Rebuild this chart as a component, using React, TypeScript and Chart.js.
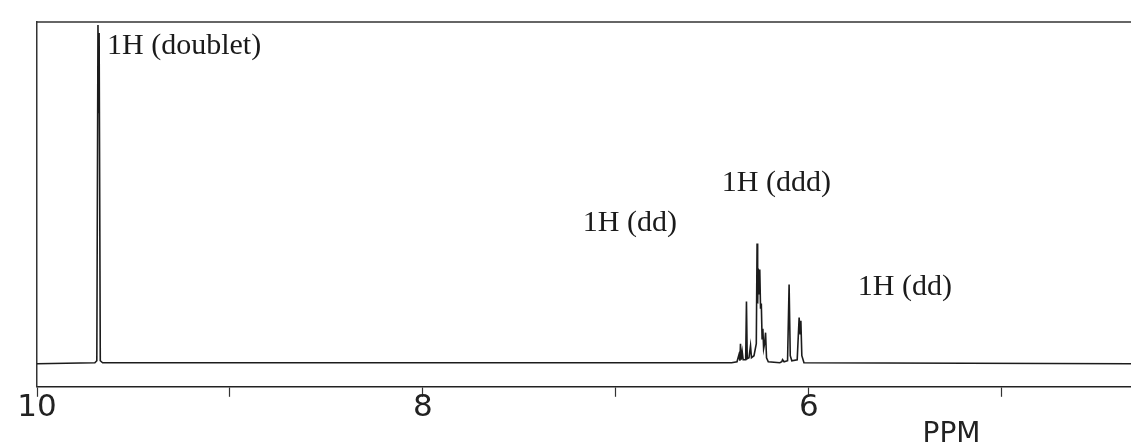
import React, { useEffect, useRef } from "react";
import { Chart, registerables } from "chart.js";

Chart.register(...registerables);

// Chemical shift (ppm) and intensity of the traced spectrum
const shiftPpm = [
  10.0, 9.7, 9.69, 9.684, 9.681, 9.678, 9.672, 9.66,
  6.4, 6.372, 6.362, 6.357, 6.354, 6.35, 6.345, 6.34, 6.327, 6.323, 6.319, 6.31,
  6.302, 6.297, 6.284, 6.272, 6.268, 6.265, 6.262, 6.258, 6.254, 6.25, 6.246,
  6.242, 6.238, 6.234, 6.229, 6.224, 6.219, 6.21,
  6.15, 6.14, 6.136, 6.128, 6.11, 6.102, 6.096, 6.088,
  6.06, 6.05, 6.045, 6.041, 6.036, 6.025, 4.33,
];
const intensity = [
  0, 1, 3, 338, 250, 330, 3, 1,
  1, 2, 9, 3, 20, 4, 12, 4, 4, 62, 5, 6,
  18, 6, 8, 20, 120, 60, 95, 70, 94, 55, 60,
  25, 35, 15, 20, 31, 6, 2,
  1, 2, 4, 2, 3, 79, 8, 3,
  4, 46, 30, 43, 8, 1, 0,
];

// Axis ticks
const tickValues = [10, 9, 8, 7, 6, 5];
const tickLabels = ["10", "", "8", "", "6", ""];
const axisTitle = "PPM";

// Peak annotations
const peakLabels = ["1H (doublet)", "1H (ddd)", "1H (dd)", "1H (dd)"];
const labelAnchors = [
  { ppm: 9.637, level: 317 },
  { ppm: 6.451, level: 180 },
  { ppm: 7.171, level: 140 },
  { ppm: 5.746, level: 76 },
];

const decorPlugin = {
  id: "decor",
  afterDraw(chart: any) {
    const { ctx, chartArea, scales } = chart;
    const x = scales.x;
    const y = scales.y;
    ctx.save();
    // top frame line
    ctx.strokeStyle = "#333";
    ctx.lineWidth = 1.5;
    ctx.beginPath();
    ctx.moveTo(chartArea.left, chartArea.top);
    ctx.lineTo(chartArea.right, chartArea.top);
    ctx.stroke();
    // peak labels
    ctx.fillStyle = "#1a1a1a";
    ctx.font = '30px "Liberation Serif", "DejaVu Serif", serif';
    ctx.textAlign = "left";
    ctx.textBaseline = "middle";
    peakLabels.forEach((t, i) => {
      const a = labelAnchors[i];
      ctx.fillText(t, x.getPixelForValue(a.ppm), y.getPixelForValue(a.level));
    });
    // axis title
    ctx.font = '28px "DejaVu Sans", sans-serif';
    ctx.textAlign = "center";
    ctx.textBaseline = "middle";
    ctx.fillStyle = "#222";
    ctx.fillText(axisTitle, x.getPixelForValue(5.26), chartArea.bottom + 48);
    ctx.restore();
  },
};

export default function App() {
  const canvasRef = useRef<HTMLCanvasElement | null>(null);

  useEffect(() => {
    document.body.style.margin = "0";
    const canvas = canvasRef.current;
    if (!canvas) return;
    const points = shiftPpm.map((p, i) => ({ x: p, y: intensity[i] }));
    const chart = new Chart(canvas, {
      type: "line",
      data: {
        datasets: [
          {
            data: points,
            borderColor: "#1c1c1c",
            borderWidth: 1.6,
            pointRadius: 0,
            tension: 0,
            fill: false,
          },
        ],
      },
      options: {
        animation: false,
        responsive: true,
        maintainAspectRatio: false,
        parsing: false as any,
        layout: { padding: { left: 37, top: 22, right: 0, bottom: 26 } },
        plugins: {
          legend: { display: false },
          tooltip: { enabled: false },
        },
        scales: {
          x: {
            type: "linear",
            reverse: true,
            min: 4.33,
            max: 10,
            afterBuildTicks: (scale: any) => {
              scale.ticks = tickValues.map((v) => ({ value: v }));
            },
            ticks: {
              autoSkip: false,
              maxRotation: 0,
              padding: -7,
              color: "#222",
              font: { family: '"DejaVu Sans", sans-serif', size: 31, weight: "normal" },
              callback: (v: any) => {
                const i = tickValues.indexOf(Number(v));
                return i >= 0 ? tickLabels[i] : "";
              },
            },
            grid: {
              display: true,
              drawOnChartArea: false,
              drawTicks: true,
              tickLength: 10,
              tickColor: "#333",
              tickWidth: 1.2,
            },
            border: { display: true, color: "#222", width: 1.5 },
          },
          y: {
            type: "linear",
            min: -23,
            max: 341,
            ticks: { display: false },
            grid: { display: false, drawTicks: false },
            border: { display: true, color: "#333", width: 1.5 },
          },
        },
      },
      plugins: [decorPlugin],
    });
    return () => chart.destroy();
  }, []);

  return (
    <div style={{ position: "relative", width: "1131px", height: "446px", background: "#fff" }}>
      <canvas ref={canvasRef} />
    </div>
  );
}
